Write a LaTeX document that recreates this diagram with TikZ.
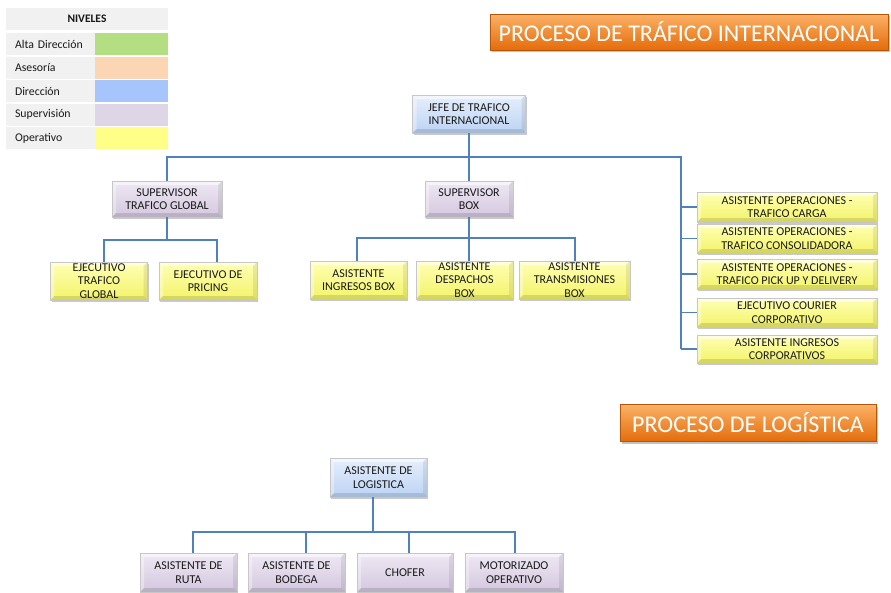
\documentclass[tikz,border=0pt]{standalone}
\usepackage{fontspec}
\setmainfont{Carlito}
\usetikzlibrary{shadows}

\definecolor{linkblue}{HTML}{4F81BD}
\definecolor{cellgray}{HTML}{F1F1F1}
\definecolor{lvGreen}{HTML}{B3DE81}
\definecolor{lvPeach}{HTML}{FCD5B5}
\definecolor{lvBlue}{HTML}{A6C5FC}
\definecolor{lvLav}{HTML}{DED6E6}
\definecolor{lvYellow}{HTML}{FFFF88}
\definecolor{yelTop}{HTML}{FFFFB4}
\definecolor{yelBot}{HTML}{F3F36A}
\definecolor{lavTop}{HTML}{EFE8F4}
\definecolor{lavBot}{HTML}{D3C7DE}
\definecolor{bluTop}{HTML}{E6EFFC}
\definecolor{bluBot}{HTML}{BCD3F4}
\definecolor{orTop}{HTML}{FBB166}
\definecolor{orBot}{HTML}{E46C0A}

\tikzset{
  % raised bevel: light upper/left rim, darker lower/right rim
  bevel/.style={path picture={
    \fill[white,opacity=0.55] (path picture bounding box.north west) -- (path picture bounding box.north east)
      -- ([xshift=-4pt,yshift=-4pt]path picture bounding box.north east)
      -- ([xshift=4pt,yshift=-4pt]path picture bounding box.north west) -- cycle;
    \fill[white,opacity=0.35] (path picture bounding box.north west) -- (path picture bounding box.south west)
      -- ([xshift=4pt,yshift=4pt]path picture bounding box.south west)
      -- ([xshift=4pt,yshift=-4pt]path picture bounding box.north west) -- cycle;
    \fill[black,opacity=0.12] (path picture bounding box.south west) -- (path picture bounding box.south east)
      -- ([xshift=-4pt,yshift=4pt]path picture bounding box.south east)
      -- ([xshift=4pt,yshift=4pt]path picture bounding box.south west) -- cycle;
    \fill[black,opacity=0.08] (path picture bounding box.north east) -- (path picture bounding box.south east)
      -- ([xshift=-4pt,yshift=4pt]path picture bounding box.south east)
      -- ([xshift=-4pt,yshift=-4pt]path picture bounding box.north east) -- cycle;
  }},
  orgbox/.style={rectangle, draw=black!22, line width=0.4pt, align=center, inner xsep=1pt, inner ysep=0pt,
    font=\fontsize{12}{13.5}\selectfont, text=black!90,
    drop shadow={shadow xshift=1.2pt, shadow yshift=-1.6pt, opacity=0.3, fill=black!70}, bevel},
  opbox/.style={orgbox, top color=yelTop, bottom color=yelBot},
  supbox/.style={orgbox, top color=lavTop, bottom color=lavBot},
  dirbox/.style={orgbox, top color=bluTop, bottom color=bluBot},
  titlebox/.style={rectangle, draw=orBot!80!black, line width=0.3pt, top color=orTop, bottom color=orBot,
    text=white, font=\fontsize{24}{26}\selectfont, inner sep=0pt,
    drop shadow={shadow xshift=1.5pt, shadow yshift=-2pt, opacity=0.35, fill=black!70}},
  conn/.style={draw=linkblue, line width=1.2pt},
  lgcell/.style={rectangle, fill=cellgray, minimum height=22pt, inner sep=0pt, text width=78pt,
    align=left, font=\fontsize{11.8}{13}\selectfont, text=black!90},
  lgswatch/.style={rectangle, minimum width=73pt, minimum height=22pt, inner sep=0pt},
}

\begin{document}
\begin{tikzpicture}[x=1pt, y=-1pt]
\useasboundingbox (0,0) rectangle (891,592);

% ---------- legend ----------
\node[rectangle, fill=cellgray, minimum width=162pt, minimum height=22pt, inner sep=0pt,
      font=\bfseries\fontsize{11.5}{13}\selectfont, text=black!90] (lghead) at (87,19) {NIVELES};
\node[lgcell, minimum width=87pt] (lg1) at (54,44) {Alta Dirección};
\node[lgswatch, fill=lvGreen] (sw1) at (131.5,44) {};
\node[lgcell, minimum width=87pt] (lg2) at (54,67.5) {Asesoría};
\node[lgswatch, fill=lvPeach] (sw2) at (131.5,67.5) {};
\node[lgcell, minimum width=87pt] (lg3) at (54,91) {Dirección};
\node[lgswatch, fill=lvBlue] (sw3) at (131.5,91) {};
\node[lgcell, minimum width=87pt] (lg4) at (54,114.5) {Supervisión};
\node[lgswatch, fill=lvLav] (sw4) at (131.5,114.5) {};
\node[lgcell, minimum width=87pt] (lg5) at (54,138) {Operativo};
\node[lgswatch, fill=lvYellow] (sw5) at (131.5,138) {};
% left strip of the label cells (text is indented inside them)
\fill[cellgray] (6,33) rectangle (12,55) (6,56.5) rectangle (12,78.5) (6,80) rectangle (12,102)
  (6,103.5) rectangle (12,125.5) (6,127) rectangle (12,149);

% ---------- titles ----------
\node[titlebox, minimum width=398pt, minimum height=36pt] (t1) at (689,32) {PROCESO DE TRÁFICO INTERNACIONAL};
\node[titlebox, minimum width=256pt, minimum height=37pt] (t2) at (748,423) {PROCESO DE LOGÍSTICA};

% ---------- international traffic ----------
\node[dirbox, minimum width=113pt, minimum height=38pt] (jefe) at (469,114) {JEFE DE TRAFICO\\INTERNACIONAL};

\node[supbox, minimum width=110pt, minimum height=36pt] (supTG) at (167,199) {SUPERVISOR\\TRAFICO GLOBAL};
\node[supbox, minimum width=88pt, minimum height=36pt] (supBX) at (469,199) {SUPERVISOR\\BOX};

\node[opbox, minimum width=97pt, minimum height=38pt] (ejTG) at (99,281) {EJECUTIVO\\TRAFICO\\GLOBAL};
\node[opbox, minimum width=98pt, minimum height=38pt] (ejPR) at (208,281) {EJECUTIVO DE\\PRICING};

\node[opbox, minimum width=97pt, minimum height=38pt] (asIN) at (358.5,280) {ASISTENTE\\INGRESOS BOX};
\node[opbox, minimum width=97pt, minimum height=38pt] (asDE) at (464.5,280) {ASISTENTE\\DESPACHOS\\BOX};
\node[opbox, minimum width=111pt, minimum height=38pt] (asTR) at (574.5,280) {ASISTENTE\\TRANSMISIONES\\BOX};

\node[opbox, minimum width=180pt, minimum height=30pt] (r1) at (787,207) {ASISTENTE OPERACIONES -\\TRAFICO CARGA};
\node[opbox, minimum width=180pt, minimum height=29pt] (r2) at (787,238.5) {ASISTENTE OPERACIONES -\\TRAFICO CONSOLIDADORA};
\node[opbox, minimum width=180pt, minimum height=30pt] (r3) at (787,274) {ASISTENTE OPERACIONES -\\TRAFICO PICK UP Y DELIVERY};
\node[opbox, minimum width=180pt, minimum height=29pt] (r4) at (787,312.5) {EJECUTIVO COURIER\\CORPORATIVO};
\node[opbox, minimum width=180pt, minimum height=28pt] (r5) at (787,349) {ASISTENTE INGRESOS\\CORPORATIVOS};

% connector junctions
\coordinate (busA) at (469,157);
\coordinate (railTop) at (681,157);
\coordinate (railBot) at (681,349);
\coordinate (busB) at (167,240);
\coordinate (dropTG) at (104,262);
\coordinate (dropPR) at (217,262);
\coordinate (busC) at (469,238);
\coordinate (dropIN) at (357,261);
\coordinate (dropTR) at (575,261);

\draw[conn] (jefe.south) -- (busA);
\draw[conn] (busA) -| (supTG.north);
\draw[conn] (busA) -- (supBX.north);
\draw[conn] (busA) -- (railTop) -- (railBot);
\foreach \r in {r1,r2,r3,r4,r5}
  \draw[conn] (railTop |- \r.west) -- (\r.west);

\draw[conn] (supTG.south) -- (busB);
\draw[conn] (busB) -| (dropTG);
\draw[conn] (busB) -| (dropPR);

\draw[conn] (supBX.south) -- (busC);
\draw[conn] (busC) -| (dropIN);
\draw[conn] (busC) -| (dropTR);
\draw[conn] (busC) -- (busC |- asDE.north);

% ---------- logistics ----------
\node[dirbox, minimum width=97pt, minimum height=39pt] (log) at (378.5,477.5) {ASISTENTE DE\\LOGISTICA};

\node[supbox, minimum width=97pt, minimum height=39pt] (lgRU) at (188.5,572.5) {ASISTENTE DE\\RUTA};
\node[supbox, minimum width=97pt, minimum height=39pt] (lgBO) at (296.5,572.5) {ASISTENTE DE\\BODEGA};
\node[supbox, minimum width=96pt, minimum height=39pt] (lgCH) at (405,572.5) {CHOFER};
\node[supbox, minimum width=98pt, minimum height=39pt] (lgMO) at (514,572.5) {MOTORIZADO\\OPERATIVO};

\coordinate (busD) at (373,532);
\coordinate (dropRU) at (193,553);
\coordinate (dropBO) at (306,553);
\coordinate (dropCH) at (409,553);
\coordinate (dropMO) at (515,553);

\draw[conn] (log.south -| busD) -- (busD);
\draw[conn] (busD) -| (dropRU);
\draw[conn] (busD) -| (dropBO);
\draw[conn] (busD) -| (dropCH);
\draw[conn] (busD) -| (dropMO);
\end{tikzpicture}
\end{document}
